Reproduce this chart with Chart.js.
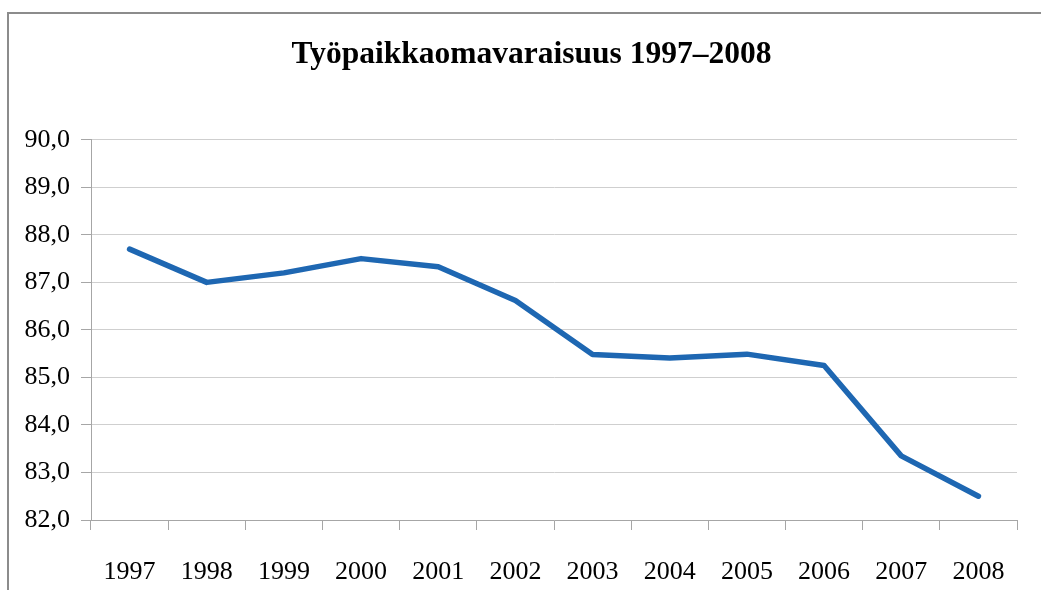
<!DOCTYPE html>
<html>
<head>
<meta charset="utf-8">
<script src="https://cdn.jsdelivr.net/npm/chart.js@4"></script>
<style>
  html, body { margin: 0; padding: 0; background: #fff; }
  #wrap { width: 1041px; height: 590px; }
</style>
</head>
<body>
<div id="wrap"><canvas id="CHART-TYO"></canvas></div>
<script>
// Työpaikkaomavaraisuus 1997-2008
const vuodet = ['1997', '1998', '1999', '2000', '2001', '2002', '2003', '2004', '2005', '2006', '2007', '2008'];
const omavaraisuus = [87.7, 87.0, 87.2, 87.5, 87.33, 86.62, 85.48, 85.41, 85.49, 85.25, 83.35, 82.5];
const yMin = 82;
const yMax = 90;
const yStep = 1;

const fontti = "'Liberation Serif', 'Times New Roman', serif";

// kehys kuvan ympärille (vasen ja ylälaita)
const kehysPlugin = {
  id: 'kehys',
  beforeDraw(chart) {
    const ctx = chart.ctx;
    ctx.save();
    ctx.strokeStyle = '#8c8c8c';
    ctx.lineWidth = 2;
    ctx.beginPath();
    ctx.moveTo(8, chart.height);
    ctx.lineTo(8, 13);
    ctx.lineTo(chart.width, 13);
    ctx.stroke();
    ctx.restore();
  },
  // otsikko hieman oikealle, kuten alkuperäisessä
  afterLayout(chart) {
    if (chart.titleBlock) chart.titleBlock.left = 46;
  }
};

const ctx = document.getElementById('CHART-TYO').getContext('2d');
const tyoChart = new Chart(ctx, {
  type: 'line',
  data: {
    labels: vuodet,
    datasets: [{
      data: omavaraisuus,
      borderColor: '#1e67b2',
      borderWidth: 5.5,
      borderCapStyle: 'round',
      borderJoinStyle: 'round',
      pointRadius: 0,
      tension: 0,
      fill: false
    }]
  },
  options: {
    responsive: true,
    maintainAspectRatio: false,
    animation: false,
    layout: { padding: { left: 0, right: 24, top: 0, bottom: 0 } },
    plugins: {
      legend: { display: false },
      tooltip: { enabled: false },
      title: {
        display: true,
        text: 'Työpaikkaomavaraisuus 1997–2008',
        color: '#000',
        font: { family: fontti, size: 31.5, weight: 'bold', lineHeight: 1.2 },
        padding: { top: 36, bottom: 66 }
      }
    },
    scales: {
      x: {
        offset: true,
        grid: {
          offset: true,
          drawOnChartArea: false,
          drawTicks: true,
          tickLength: 10,
          color: '#a6a6a6'
        },
        border: { display: true, color: '#a6a6a6' },
        ticks: {
          color: '#000',
          padding: 27,
          maxRotation: 0,
          font: { family: fontti, size: 26 }
        },
        afterFit(scale) { scale.height = 70; }
      },
      y: {
        min: yMin,
        max: yMax,
        grid: {
          color: '#cfcfcf',
          tickLength: 10,
          tickColor: '#a6a6a6'
        },
        border: { display: true, color: '#a6a6a6' },
        ticks: {
          stepSize: yStep,
          color: '#000',
          padding: 11,
          font: { family: fontti, size: 26 },
          callback: (v) => v.toFixed(1).replace('.', ',')
        },
        afterFit(scale) { scale.width = 91; }
      }
    }
  },
  plugins: [kehysPlugin]
});
</script>
</body>
</html>
